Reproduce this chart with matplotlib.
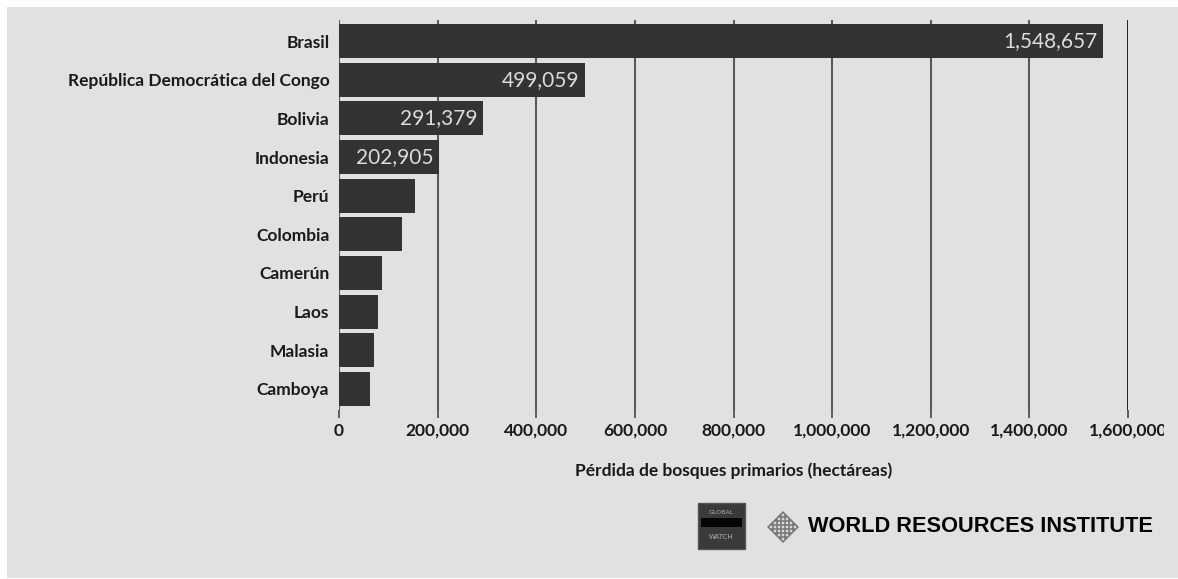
"""Pérdida de bosques primarios por país (barras horizontales)."""

import matplotlib

matplotlib.use("Agg")
import matplotlib.pyplot as plt
from matplotlib.patches import Rectangle, Polygon
from matplotlib.transforms import Bbox, TransformedBbox
from matplotlib.ticker import FuncFormatter

W, H = 1178, 579

countries = [
    "Brasil",
    "República Democrática del Congo",
    "Bolivia",
    "Indonesia",
    "Perú",
    "Colombia",
    "Camerún",
    "Laos",
    "Malasia",
    "Camboya",
]
loss_ha = [1548657, 499059, 291379, 202905, 154000, 127000, 87000, 80000, 71000, 63000]
labelled = [True, True, True, True, False, False, False, False, False, False]
x_ticks = [0, 200000, 400000, 600000, 800000, 1000000, 1200000, 1400000, 1600000]

BG = "#e1e1e1"
BAR = "#333333"
FONT = "Lato"

fig = plt.figure(figsize=(W / 100, H / 100), dpi=100, facecolor="white")
fig.patches.append(
    Rectangle((7 / W, 1 / H), 1 - 7 / W, 1 - 8 / H, transform=fig.transFigure,
              facecolor=BG, edgecolor="none", zorder=-5)
)

left, right = 339 / W, 1128 / W
top, bottom = 1 - 20 / H, 1 - 410 / H
ax = fig.add_axes([left, bottom, right - left, top - bottom])
ax.set_facecolor("none")

y = list(range(len(countries)))
ax.barh(y, loss_ha, height=0.88, color=BAR, zorder=2)
for yi, v, show in zip(y, loss_ha, labelled):
    if show:
        ax.text(v - 11000, yi, f"{v:,}", ha="right", va="center",
                color="#dcdcdc", fontsize=15, family=FONT, zorder=3)

ax.set_xlim(0, 1600000)
ax.set_ylim(9.55, -0.55)
ax.set_yticks(y)
ax.set_yticklabels(countries, fontsize=12.5, fontweight="bold", family=FONT, color="#1a1a1a")
ax.set_xticks(x_ticks)
ax.xaxis.set_major_formatter(FuncFormatter(lambda v, _: f"{int(v):,}"))
for lab in ax.get_xticklabels():
    lab.set_fontsize(12.5)
    lab.set_fontweight("bold")
    lab.set_family(FONT)
    lab.set_color("#1a1a1a")
ax.tick_params(axis="y", length=0, pad=7)
ax.tick_params(axis="x", length=6, width=1.3, color="#555555", pad=3)

for xv in x_ticks:
    ax.axvline(xv, color="#111111" if xv == x_ticks[-1] else "#5a5a5a",
               lw=2.0 if xv == x_ticks[-1] else 1.5, zorder=1)
for s in ax.spines.values():
    s.set_visible(False)

ax.set_xlabel("Pérdida de bosques primarios (hectáreas)", fontsize=12.5,
              fontweight="bold", family=FONT, color="#1a1a1a", labelpad=17)

# last tick label is cut off in the original picture
clip = TransformedBbox(Bbox.from_extents(0, 0, 1164 / W, 1), fig.transFigure)
for lab in ax.get_xticklabels():
    lab.set_clip_box(clip)
    lab.set_clip_on(True)

# logos
lg = fig.add_axes([0, 0, 1, 1])
lg.set_xlim(0, W)
lg.set_ylim(H, 0)
lg.axis("off")
lg.patch.set_visible(False)

lg.add_patch(Rectangle((698, 503), 47, 46, facecolor="#3a3a3a", edgecolor="#555555", lw=1))
lg.text(721.5, 512, "GLOBAL", ha="center", va="center", fontsize=4.5, color="#aaaaaa", family="DejaVu Sans")
lg.add_patch(Rectangle((701, 518), 41, 9, facecolor="#050505", edgecolor="none"))
lg.text(721.5, 537, "WATCH", ha="center", va="center", fontsize=5, color="#aaaaaa", family="DejaVu Sans")

cx, cy, r = 783, 527, 16
lg.add_patch(Polygon([(cx, cy - r), (cx + r, cy), (cx, cy + r), (cx - r, cy)],
                     closed=True, facecolor="#7a7a7a", edgecolor="none"))
step = r / 4
for i in range(-4, 5):
    for j in range(-4, 5):
        px_, py_ = cx + (i - j) * step / 2, cy + (i + j) * step / 2
        if (i + j) % 2 == 0 and abs(px_ - cx) + abs(py_ - cy) < r - 2:
            lg.add_patch(Polygon([(px_, py_ - 1.6), (px_ + 1.6, py_), (px_, py_ + 1.6), (px_ - 1.6, py_)],
                                 closed=True, facecolor=BG, edgecolor="none"))

lg.text(808, 527, "WORLD RESOURCES INSTITUTE", ha="left", va="center",
        fontsize=15.7, fontweight="bold", family="Liberation Sans", color="#050505")

fig.savefig("out.png", dpi=100, facecolor="white")
